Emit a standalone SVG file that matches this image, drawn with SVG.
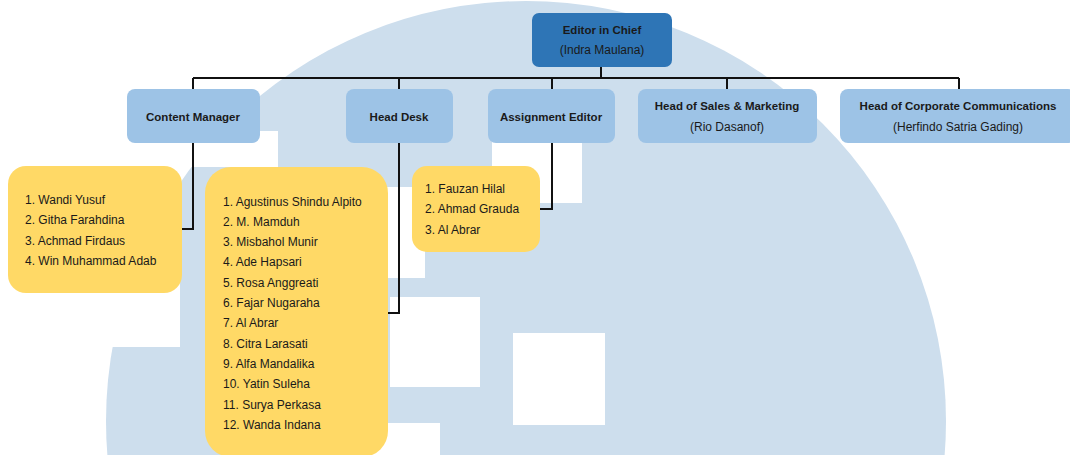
<svg xmlns="http://www.w3.org/2000/svg" width="1070" height="455" viewBox="0 0 1070 455">
<style>
.t{font-family:"Liberation Sans",Arial,sans-serif;fill:#1a1a1a;font-size:12px}
.b{font-weight:bold;font-size:11.5px}
.c{text-anchor:middle}
.lvl{fill:#9dc3e6}
.top{fill:#2e75b6}
.list{fill:#ffd966}
.ln{fill:none;stroke:#111;stroke-width:2}
</style>
<rect width="1070" height="455" fill="#ffffff"/>
<g id="watermark">
<circle cx="526" cy="421" r="420" fill="#cddeed"/>
<g fill="#ffffff">
<rect x="188" y="131" width="90" height="36"/>
<rect x="90" y="257" width="90" height="90"/>
<rect x="335" y="187" width="90" height="91"/>
<rect x="390" y="297" width="90" height="90"/>
<rect x="492" y="113" width="90" height="90"/>
<rect x="513" y="333" width="92" height="92"/>
<rect x="350" y="423" width="90" height="90"/>
</g>
</g>
<g id="connectors">
<path class="ln" d="M601 67V78M193 78H959M193 78V90M399 78V90M552 78V90M727 78V90M959 78V90"/>
<path class="ln" d="M193 143V229H182"/>
<path class="ln" d="M399 143V313H388"/>
<path class="ln" d="M552 143V209H540"/>
</g>
<g id="editor-in-chief">
<rect class="top" x="532" y="13" width="140" height="54" rx="7"/>
<text class="t b c" x="602" y="34">Editor in Chief</text>
<text class="t c" x="602" y="54">(Indra Maulana)</text>
</g>
<g id="content-manager">
<rect class="lvl" x="127" y="89" width="133" height="54" rx="8"/>
<text class="t b c" x="193" y="121">Content Manager</text>
</g>
<g id="head-desk">
<rect class="lvl" x="346" y="89" width="107" height="54" rx="8"/>
<text class="t b c" x="399" y="121">Head Desk</text>
</g>
<g id="assignment-editor">
<rect class="lvl" x="488" y="89" width="127" height="54" rx="8"/>
<text class="t b c" x="551" y="121">Assignment Editor</text>
</g>
<g id="head-sales-marketing">
<rect class="lvl" x="638" y="89" width="179" height="54" rx="8"/>
<text class="t b c" x="727" y="110">Head of Sales &amp; Marketing</text>
<text class="t c" x="727" y="131">(Rio Dasanof)</text>
</g>
<g id="head-corporate-communications">
<rect class="lvl" x="840" y="89" width="236" height="54" rx="8"/>
<text class="t b c" x="958" y="110">Head of Corporate Communications</text>
<text class="t c" x="958" y="131">(Herfindo Satria Gading)</text>
</g>
<g id="content-manager-team">
<rect class="list" x="8" y="166" width="174" height="127" rx="18"/>
<text class="t" x="25" y="204">1. Wandi Yusuf</text>
<text class="t" x="25" y="224">2. Githa Farahdina</text>
<text class="t" x="25" y="245">3. Achmad Firdaus</text>
<text class="t" x="25" y="265">4. Win Muhammad Adab</text>
</g>
<g id="head-desk-team">
<rect class="list" x="205" y="167" width="183" height="290" rx="26"/>
<text class="t" x="223" y="205.5">1. Agustinus Shindu Alpito</text>
<text class="t" x="223" y="225.8">2. M. Mamduh</text>
<text class="t" x="223" y="246.1">3. Misbahol Munir</text>
<text class="t" x="223" y="266.4">4. Ade Hapsari</text>
<text class="t" x="223" y="286.7">5. Rosa Anggreati</text>
<text class="t" x="223" y="307">6. Fajar Nugaraha</text>
<text class="t" x="223" y="327.3">7. Al Abrar</text>
<text class="t" x="223" y="347.6">8. Citra Larasati</text>
<text class="t" x="223" y="367.9">9. Alfa Mandalika</text>
<text class="t" x="223" y="388.2">10. Yatin Suleha</text>
<text class="t" x="223" y="408.5">11. Surya Perkasa</text>
<text class="t" x="223" y="428.8">12. Wanda Indana</text>
</g>
<g id="assignment-editor-team">
<rect class="list" x="412" y="166" width="128" height="86" rx="15"/>
<text class="t" x="425" y="193">1. Fauzan Hilal</text>
<text class="t" x="425" y="213">2. Ahmad Grauda</text>
<text class="t" x="425" y="234">3. Al Abrar</text>
</g>
</svg>
